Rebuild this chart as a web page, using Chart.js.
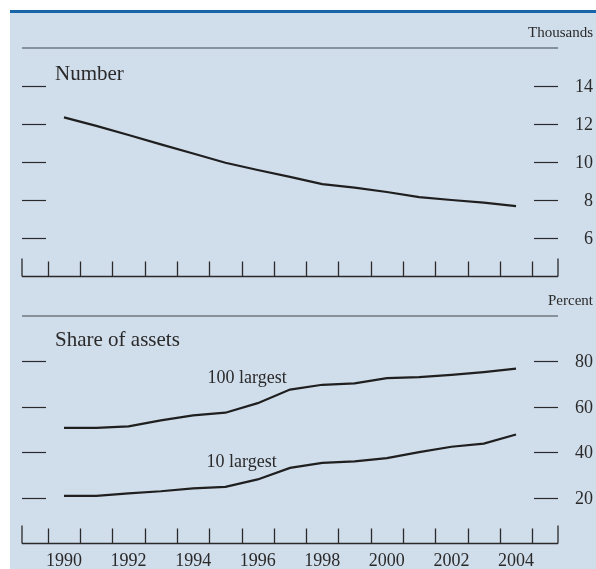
<!DOCTYPE html>
<html>
<head>
<meta charset="utf-8">
<script src="https://cdn.jsdelivr.net/npm/chart.js@4.4.1/dist/chart.umd.min.js"></script>
<style>
  html, body { margin: 0; padding: 0; background: #fff; }
  #wrap { position: relative; width: 596px; height: 569px; overflow: hidden; }
  #bg { position: absolute; left: 10px; top: 10px; right: 0; bottom: 0; background: #d0ddeb; border-top: 3px solid #1766a9; }
  canvas { position: absolute; left: 0; top: 0; }
</style>
</head>
<body>
<div id="wrap">
  <div id="bg"></div>
  <canvas id="number-chart" width="596" height="569"></canvas>
  <canvas id="share-chart" width="596" height="569"></canvas>
</div>
<script>
const years = [1990, 1991, 1992, 1993, 1994, 1995, 1996, 1997, 1998, 1999, 2000, 2001, 2002, 2003, 2004];
const bankCount = [12.35, 11.9, 11.42, 10.93, 10.45, 9.96, 9.58, 9.22, 8.84, 8.65, 8.42, 8.15, 8.0, 7.86, 7.68];
const share100 = [50.7, 50.7, 51.4, 54.0, 56.2, 57.4, 61.6, 67.6, 69.7, 70.3, 72.6, 73.1, 74.1, 75.3, 76.8];
const share10 = [20.8, 20.8, 21.9, 22.8, 24.1, 24.7, 28.0, 33.1, 35.3, 36.0, 37.4, 40.0, 42.4, 43.8, 47.8];
const numberTicks = [6, 8, 10, 12, 14];
const shareTicks = [20, 40, 60, 80];
const yearLabels = ['1990', '1992', '1994', '1996', '1998', '2000', '2002', '2004'];

const FONT = '"Liberation Serif", "Times New Roman", serif';
const INK = '#2a2a2a';

function seg(ctx, x1, y1, x2, y2) {
  ctx.beginPath();
  ctx.moveTo(x1, y1);
  ctx.lineTo(x2, y2);
  ctx.stroke();
}

// rules, inside tick marks and labels, all placed through the chart scales
function panelDecor(cfg) {
  return {
    id: 'panelDecor',
    afterDraw(chart) {
      const { ctx, chartArea: a } = chart;
      const x = chart.scales.x, y = chart.scales.y;
      ctx.save();

      ctx.strokeStyle = '#6f7781';
      ctx.lineWidth = 1.5;
      seg(ctx, a.left, a.top, a.right, a.top);

      ctx.fillStyle = INK;
      ctx.textBaseline = 'alphabetic';
      ctx.font = '15px ' + FONT;
      ctx.textAlign = 'right';
      ctx.fillText(cfg.unit, 593, a.top - 11);
      ctx.font = '21px ' + FONT;
      ctx.textAlign = 'left';
      ctx.fillText(cfg.title, 55, a.top + cfg.titleDrop);

      ctx.strokeStyle = INK;
      ctx.lineWidth = 1.2;
      ctx.font = '18px ' + FONT;
      ctx.textAlign = 'right';
      ctx.textBaseline = 'middle';
      cfg.ticks.forEach(v => {
        const py = Math.round(y.getPixelForValue(v)) + 0.5;
        seg(ctx, a.left, py, a.left + 24, py);
        seg(ctx, a.right - 24, py, a.right, py);
        ctx.fillText(String(v), 593, py + 1);
      });

      const base = Math.round(a.bottom) + 0.5;
      ctx.lineWidth = 1.3;
      seg(ctx, a.left, base, a.right, base);
      seg(ctx, a.left, base, a.left, base - 18);
      seg(ctx, a.right, base, a.right, base - 18);
      years.concat([years[years.length - 1] + 1]).forEach(yr => {
        const px = Math.round(x.getPixelForValue(yr - 0.5)) + 0.5;
        seg(ctx, px, base, px, base - 15);
      });

      ctx.textAlign = 'center';
      if (cfg.showYears) {
        yearLabels.forEach(l => {
          ctx.fillText(l, x.getPixelForValue(Number(l)), a.bottom + 18);
        });
      }
      (cfg.notes || []).forEach(n => {
        ctx.fillText(n.text, x.getPixelForValue(n.x), y.getPixelForValue(n.y));
      });
      ctx.restore();
    }
  };
}

function lineSet(values) {
  return {
    data: years.map((yr, i) => ({ x: yr, y: values[i] })),
    borderColor: '#1f1f1f',
    borderWidth: 2.2,
    pointRadius: 0,
    tension: 0,
    fill: false,
  };
}

function makePanel(id, datasets, yMin, yMax, padTop, padBottom, cfg) {
  return new Chart(document.getElementById(id), {
    type: 'line',
    data: { datasets: datasets },
    options: {
      responsive: false,
      animation: false,
      events: [],
      layout: { padding: { left: 22, right: 38, top: padTop, bottom: padBottom } },
      plugins: { legend: { display: false }, tooltip: { enabled: false } },
      scales: {
        x: { type: 'linear', min: 1988.7, max: 2005.3, display: false },
        y: { type: 'linear', min: yMin, max: yMax, display: false },
      },
    },
    plugins: [panelDecor(cfg)],
  });
}

makePanel('number-chart', [lineSet(bankCount)], 4, 16, 48, 293, {
  unit: 'Thousands', title: 'Number', titleDrop: 32, ticks: numberTicks, showYears: false,
});

makePanel('share-chart', [lineSet(share100), lineSet(share10)], 0, 100, 316, 26, {
  unit: 'Percent', title: 'Share of assets', titleDrop: 30, ticks: shareTicks, showYears: true,
  notes: [
    { text: '100 largest', x: 1995.67, y: 72.5 },
    { text: '10 largest', x: 1995.5, y: 35.4 },
  ],
});
</script>
</body>
</html>
